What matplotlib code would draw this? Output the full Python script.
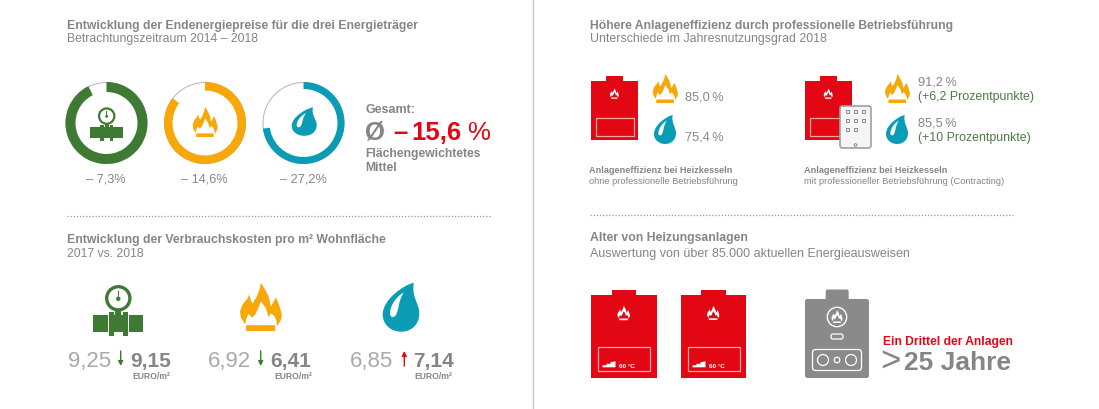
import matplotlib
matplotlib.use('Agg')
import matplotlib.pyplot as plt
import numpy as np
from matplotlib.path import Path
from matplotlib.patches import PathPatch, Wedge, Circle, Rectangle, FancyBboxPatch, Polygon

plt.rcParams['font.family'] = ['Liberation Sans', 'DejaVu Sans']

# data
ring_drop = [7.3, 14.6, 27.2]
ring_labels = ['– 7,3%', '– 14,6%', '– 27,2%']
cost_2017 = ['9,25', '6,92', '6,85']
cost_2018 = ['9,15', '6,41', '7,14']
cost_up = [False, False, True]
eff_without = ['85,0\u2009%', '75,4\u2009%']
eff_with = ['91,2\u2009%', '85,5\u2009%']
eff_gain = ['(+6,2 Prozentpunkte)', '(+10 Prozentpunkte)']

GREEN = '#3f7a35'
ORANGE = '#f7a707'
TEAL = '#0a9cb5'
RED = '#e30613'
GREY = '#858585'
LIGHT = '#a9a9a9'
DGREEN = '#4d7a45'

fig = plt.figure(figsize=(10.99, 4.09), dpi=100)
ax = fig.add_axes([0, 0, 1, 1])
ax.set_xlim(0, 1099)
ax.set_ylim(409, 0)
ax.axis('off')


def txt(x, y, s, size, color=GREY, weight='normal', ha='left'):
    ax.text(x, y, s, fontsize=size, color=color, fontweight=weight, ha=ha, va='baseline')


FLAME_OUT = [(.12, .86), (.02, .72), (0, .59), (.06, .45), (.18, .32), (.22, .24), (.26, .37), (.30, .43),
             (.40, .28), (.46, .14), (.50, 0), (.60, .14), (.68, .28), (.72, .43), (.74, .49), (.80, .39),
             (.86, .30), (.94, .48), (1, .66), (.97, .78), (.88, .90), (.87, .79), (.82, .69), (.74, .63),
             (.68, .71), (.62, .53), (.50, .38), (.43, .53), (.36, .66), (.28, .72), (.21, .64), (.16, .72)]


def flame(x, y, w, h, color=ORANGE, bar=True):
    pts = [(x + a * w, y + b * h) for a, b in FLAME_OUT]
    ax.add_patch(Polygon(pts, closed=True, fc=color, ec='none'))
    if bar:
        ax.add_patch(FancyBboxPatch((x + .14 * w, y + .88 * h), .70 * w, .12 * h,
                                    boxstyle='round,pad=0,rounding_size=%f' % (.03 * w), fc=color, ec='none'))


def drop(x, y, w, h, color=TEAL, inner='white'):
    def tr(pts):
        return [(x + a * w, y + b * h) for a, b in pts]
    c4 = Path.CURVE4
    body = tr([(.85, 0), (.6, .04), (0, .33), (0, .65), (0, .85), (.22, 1), (.5, 1), (.8, 1), (1, .85), (1, .62),
               (1, .42), (.78, .3), (.85, 0)])
    ax.add_patch(PathPatch(Path(body, [Path.MOVETO] + [c4] * 12), fc=color, ec='none'))
    hole = tr([(.58, .2), (.4, .26), (.2, .46), (.2, .62), (.2, .71), (.29, .73), (.35, .67), (.45, .57), (.42, .35), (.58, .2)])
    ax.add_patch(PathPatch(Path(hole, [Path.MOVETO] + [c4] * 9), fc=inner, ec='none'))


def meter(cx, top, s, color=GREEN, lines=True):
    # s = 1 is the big one, 50 px wide
    r = 11.6 * s
    cy = top + 13.3 * s
    ax.add_patch(Circle((cx, cy), r, fc='white', ec=color, lw=2.4 * s))
    ax.add_patch(Rectangle((cx - .8 * s, cy - 7 * s), 1.6 * s, 7 * s, fc=color, ec='none'))
    ax.add_patch(Circle((cx, cy + .5 * s), 2.2 * s, fc=color, ec='none'))
    py = top + 30 * s
    ax.add_patch(Rectangle((cx - 25 * s, py), 50 * s, 16.7 * s, fc=color, ec='none'))
    ax.add_patch(Rectangle((cx - 3 * s, top + 24 * s), 6 * s, 8 * s, fc=color, ec='none'))
    for fx in (-9.5, 5):
        if lines:
            ax.add_patch(Rectangle((cx + (fx - .45) * s, py - 3.3 * s), 5.9 * s, 24 * s, fc='white', ec='none'))
        ax.add_patch(Rectangle((cx + fx * s, py - 3.3 * s), 5 * s, 24 * s, fc=color, ec='none'))


def boiler(x0, x1, y0, y1, cap0, cap1, captop, win, label=False):
    ax.add_patch(Rectangle((x0, y0), x1 - x0, y1 - y0, fc=RED, ec='none'))
    ax.add_patch(Rectangle((cap0, captop), cap1 - cap0, y0 - captop, fc=RED, ec='none'))
    ax.add_patch(Rectangle((win[0], win[1]), win[2] - win[0], win[3] - win[1], fc='none', ec='#f3a5a8', lw=0.9))
    fw = (x1 - x0) * .19
    cx = (x0 + x1) / 2
    fy = y0 + (y1 - y0) * .13
    flame(cx - fw / 2, fy, fw, fw * 1.15, color='white', bar=True)
    if label:
        bx, by = win[0] + 5, win[3] - 3.7
        ax.add_patch(Polygon([(bx, by), (bx, by - 2), (bx + 4, by - 2), (bx + 4, by - 3.5), (bx + 8, by - 3.5),
                              (bx + 8, by - 5), (bx + 13, by - 6), (bx + 13, by)],
                             closed=True, fc='white', ec='none'))
        txt(bx + 16.5, by + .3, '60 °C', 4.6, 'white', 'bold')


# divider and dotted separators
ax.plot([533, 533], [0, 409], color='#c4c4c4', lw=1)
ax.plot([67, 492], [216, 216], color='#9a9a9a', lw=0.9, ls=(0, (1, 1.5)))
ax.plot([590, 1014], [215, 215], color='#9a9a9a', lw=0.9, ls=(0, (1, 1.5)))

# headings
txt(67, 28.5, 'Entwicklung der Endenergiepreise für die drei Energieträger', 8.8, GREY, 'bold')
txt(67, 41.7, 'Betrachtungszeitraum 2014 – 2018', 8.8)
txt(67, 243, 'Entwicklung der Verbrauchskosten pro m² Wohnfläche', 8.85, GREY, 'bold')
txt(67, 257, '2017 vs. 2018', 8.85)
txt(590, 28.5, 'Höhere Anlageneffizienz durch professionelle Betriebsführung', 8.75, GREY, 'bold')
txt(590, 41.7, 'Unterschiede im Jahresnutzungsgrad 2018', 8.95)
txt(590, 241, 'Alter von Heizungsanlagen', 8.8, GREY, 'bold')
txt(590, 256.7, 'Auswertung von über 85.000 aktuellen Energieausweisen', 9)

# rings: the open part of each ring is the price drop
ring_x = [106.5, 205, 303.5]
ring_col = [GREEN, ORANGE, TEAL]
ring_w = [10, 8.5, 7]
for cx, pct, col, w, lab in zip(ring_x, ring_drop, ring_col, ring_w, ring_labels):
    ax.add_patch(Circle((cx, 123), 40.5, fc='none', ec='#b5b5b5', lw=0.7))
    # y axis is inverted, so the angles run clockwise on screen
    ax.add_patch(Wedge((cx, 123), 41, -90, -90 + 360 * (1 - pct / 100), width=w, fc=col, ec='none'))
    txt(cx - .5, 182, lab, 9.2, GREY, 'normal', 'center')

meter(106.7, 107.3, .66, lines=False)
flame(192.7, 107, 25, 30)
drop(291.7, 107.3, 25, 28.5)

txt(365, 112.7, 'Gesamt:', 9, GREY, 'bold')
txt(365, 140, 'Ø', 18.5, GREY, 'bold')
txt(393, 140, '–', 18.5, RED, 'bold')
txt(411.5, 140, '15,6', 18.5, RED, 'bold')
txt(467, 140, '%', 18.5, RED, 'normal')
txt(365, 156.7, 'Flächengewichtetes', 8.7, GREY, 'bold')
txt(365, 171, 'Mittel', 8.7, GREY, 'bold')

# consumption costs
icon_draw = [lambda: meter(118.3, 285, 1), lambda: flame(240, 283, 42, 48), lambda: drop(382.7, 282.7, 36.6, 49)]
x_old = [68, 208, 350]
x_arrow = [120.7, 260.7, 404.3]
x_new = [130, 270, 412.7]
x_unit = [132, 274, 414.5]
for i in range(3):
    icon_draw[i]()
    txt(x_old[i], 366.7, cost_2017[i], 16, LIGHT)
    txt(x_new[i], 366.7, cost_2018[i], 15, GREY, 'bold')
    col = RED if cost_up[i] else GREEN
    y0, y1 = (366, 351) if cost_up[i] else (351, 366)
    ax.annotate('', xy=(x_arrow[i], y1), xytext=(x_arrow[i], y0),
                arrowprops=dict(arrowstyle='-|>,head_width=0.14,head_length=0.28', color=col, lw=1, shrinkA=0, shrinkB=0))
    txt(x_unit[i], 379, 'EURO/m²', 6.2, GREY, 'bold')

# efficiency, left
boiler(590.7, 638, 80.7, 140, 606, 623, 76, (596, 117.5, 634, 136))
flame(652.7, 74, 25.3, 29)
drop(654, 115, 22, 29)
txt(685, 100, eff_without[0], 9.2)
txt(685, 141, eff_without[1], 9.2)
txt(589, 172.7, 'Anlageneffizienz bei Heizkesseln', 6.55, GREY, 'bold')
txt(589, 184, 'ohne professionelle Betriebsführung', 6.65)

# efficiency, right
boiler(804.5, 852, 80.7, 140, 819.5, 836.5, 76, (810, 117.5, 848, 136))
ax.add_patch(FancyBboxPatch((840, 106), 31, 42, boxstyle='round,pad=0,rounding_size=2.5', fc='#f5f5f5', ec='#a0a0a0', lw=1.2))
for row in range(3):
    for col in range(3):
        if row == 2 and col == 2:
            continue
        ax.add_patch(Rectangle((845.6 + col * 8, 110 + row * 9), 3.4, 3.4, fc='none', ec='#8a8a8a', lw=0.7))
ax.add_patch(Circle((855.5, 145), 1.3, fc='none', ec='#8a8a8a', lw=0.7))
flame(885, 74, 25, 29)
drop(886, 115, 22, 29)
txt(917.5, 85.7, eff_with[0], 9.2)
txt(917.5, 100, eff_gain[0], 8.9, DGREEN)
txt(917.5, 126.7, eff_with[1], 9.2)
txt(917.5, 141, eff_gain[1], 8.9, DGREEN)
txt(804, 172.7, 'Anlageneffizienz bei Heizkesseln', 6.55, GREY, 'bold')
txt(804, 184, 'mit professioneller Betriebsführung (Contracting)', 6.7)

# age of heating systems
boiler(590.7, 656.7, 295, 378, 612, 636, 290, (597.5, 347, 650, 371), True)
boiler(680.7, 745.7, 295, 378, 700.5, 725.5, 290, (687.5, 347, 739.5, 371), True)

ax.add_patch(FancyBboxPatch((825.7, 289.5), 23, 14, boxstyle='round,pad=0,rounding_size=2', fc='#8a8a8a', ec='none'))
ax.add_patch(FancyBboxPatch((805, 299), 64, 79, boxstyle='round,pad=0,rounding_size=2.5', fc='#8a8a8a', ec='none'))
ax.add_patch(Circle((837, 317), 9.7, fc='none', ec='white', lw=1))
flame(831.5, 310, 11, 13, color='white')
ax.add_patch(FancyBboxPatch((831, 334), 12, 5, boxstyle='round,pad=0,rounding_size=2', fc='none', ec='white', lw=0.9))
ax.add_patch(FancyBboxPatch((812.5, 349.5), 49, 21, boxstyle='round,pad=0,rounding_size=3', fc='none', ec='white', lw=0.9))
for cx, r in zip([823, 837, 851], [5.5, 2.8, 5.5]):
    ax.add_patch(Circle((cx, 360), r, fc='none', ec='white', lw=0.9))

txt(882.7, 345, 'Ein Drittel der Anlagen', 8.65, RED, 'bold')
txt(880.5, 371, '>', 25, GREY, 'normal')
txt(903.5, 370, '25 Jahre', 19, GREY, 'bold')

fig.savefig('out.png', dpi=100, facecolor='white')
